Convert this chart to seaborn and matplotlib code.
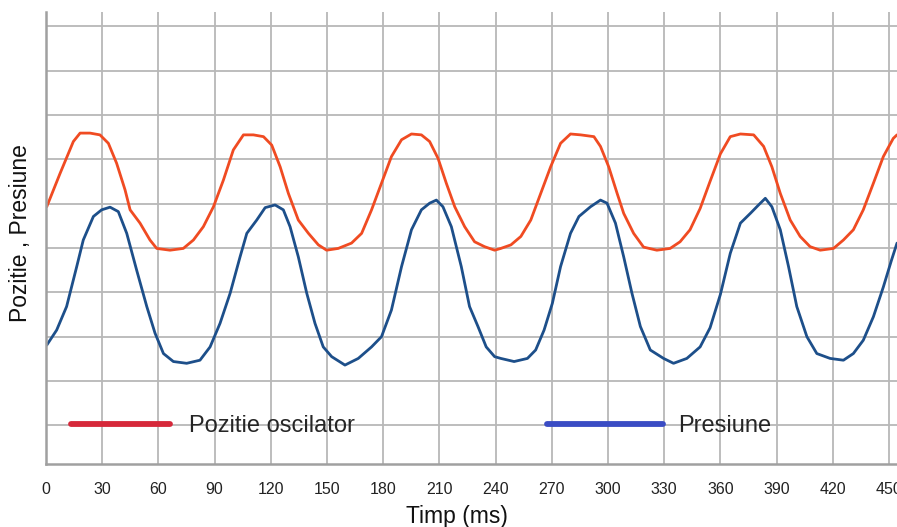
import matplotlib
matplotlib.use("Agg")
import matplotlib.pyplot as plt
from matplotlib.lines import Line2D
import seaborn as sns
import pandas as pd

# ---- data (time in ms, value in grid units) ----
pos_t = [0.4, 7.5, 14.6, 18.2, 23.5, 28.8, 33.3, 37.7, 42.2, 44.9, 50.2, 55.5, 59.1, 66.2, 73.3,
         78.7, 84.0, 89.4, 94.7, 100.0, 105.4, 110.7, 116.1,
         120.5, 125.0, 129.4, 134.7, 140.1, 145.4, 149.8, 156.0, 163.1, 168.5, 173.8, 179.1,
         184.4, 189.8, 195.1, 200.4, 204.8, 209.3, 213.7, 218.2, 223.5, 228.8, 234.1, 239.5,
         242.8, 248.2, 253.5, 258.8, 264.1, 269.4, 274.7, 280.0, 285.4, 292.5, 296.0, 300.4,
         304.9, 308.4, 313.7, 319.0, 326.1, 333.2, 338.5, 343.8, 349.2, 354.5, 360.0,
         365.3, 370.7, 377.8, 383.1, 387.5, 392.0, 397.3, 402.6, 407.9, 413.3, 420.4, 425.7,
         431.0, 436.3, 441.7, 447.0, 452.3, 454.3]
pos_v = [5.93, 6.68, 7.40, 7.59, 7.59, 7.55, 7.36, 6.91, 6.31, 5.86, 5.56, 5.18, 4.99, 4.95, 4.99,
         5.18, 5.48, 5.93, 6.53, 7.21, 7.55, 7.55, 7.51,
         7.32, 6.83, 6.23, 5.63, 5.33, 5.07, 4.95, 4.99, 5.11, 5.33, 5.86, 6.46,
         7.06, 7.44, 7.57, 7.55, 7.40, 7.02, 6.46, 5.93, 5.48, 5.14, 5.03, 4.95,
         4.99, 5.07, 5.26, 5.63, 6.23, 6.83, 7.36, 7.57, 7.55, 7.51, 7.29, 6.83,
         6.23, 5.78, 5.33, 5.02, 4.95, 4.99, 5.14, 5.41, 5.89, 6.50, 7.12,
         7.51, 7.57, 7.55, 7.29, 6.83, 6.23, 5.63, 5.26, 5.03, 4.95, 4.99, 5.18,
         5.41, 5.86, 6.46, 7.06, 7.47, 7.55]

pres_t = [0.4, 5.7, 11.0, 16.4, 19.9, 25.3, 29.7, 34.2, 38.6, 43.1, 48.4, 53.8, 58.2, 62.7, 68.0,
          75.1, 82.2, 87.6, 92.9, 98.3, 103.6, 107.2, 112.5, 117.0,
          122.3, 126.7, 130.3, 134.7, 139.2, 143.6, 148.0, 152.5, 159.6, 166.7, 173.8, 179.1,
          184.4, 189.8, 195.1, 200.4, 204.8, 208.4, 211.9, 216.4, 221.7, 226.1, 230.6, 235.0,
          239.5, 242.8, 249.9, 257.0, 261.4, 265.9, 270.3, 274.7, 280.0, 284.5, 290.7, 296.0,
          299.5, 304.0, 308.4, 312.8, 317.3, 322.6, 329.7, 335.0, 342.1, 349.2, 354.5, 360.0,
          365.3, 370.7, 376.0, 380.4, 384.0, 387.5, 392.0, 396.4, 400.8, 406.2, 411.5, 418.6,
          425.7, 431.0, 436.3, 441.7, 447.0, 451.4, 454.3]
pres_v = [2.81, 3.15, 3.68, 4.58, 5.18, 5.71, 5.86, 5.92, 5.82, 5.33, 4.50, 3.68, 3.08, 2.62, 2.44,
          2.40, 2.47, 2.77, 3.30, 3.98, 4.80, 5.33, 5.63, 5.91,
          5.97, 5.86, 5.48, 4.80, 3.98, 3.30, 2.77, 2.55, 2.36, 2.51, 2.77, 3.00,
          3.60, 4.58, 5.41, 5.86, 6.01, 6.08, 5.93, 5.48, 4.58, 3.68, 3.23, 2.77,
          2.55, 2.51, 2.44, 2.51, 2.70, 3.15, 3.75, 4.58, 5.33, 5.71, 5.93, 6.08,
          6.01, 5.56, 4.80, 3.98, 3.23, 2.70, 2.51, 2.40, 2.51, 2.77, 3.20, 3.95,
          4.88, 5.56, 5.78, 5.97, 6.12, 5.93, 5.41, 4.58, 3.68, 3.00, 2.62, 2.51,
          2.47, 2.62, 2.92, 3.45, 4.12, 4.73, 5.11]

series_names = ["Pozitie oscilator", "Presiune"]
x_ticks = list(range(0, 451, 30))
y_grid = list(range(1, 11))

curve_colors = {"Pozitie oscilator": "#f04b22", "Presiune": "#1d4f8a"}
legend_colors = {"Pozitie oscilator": "#d6283a", "Presiune": "#3a4cc4"}

df = pd.concat([
    pd.DataFrame({"t": pos_t, "v": pos_v, "serie": series_names[0]}),
    pd.DataFrame({"t": pres_t, "v": pres_v, "serie": series_names[1]}),
], ignore_index=True)

sns.set_theme(style="white")
plt.rcParams["font.family"] = ["Liberation Sans", "DejaVu Sans"]

fig = plt.figure(figsize=(8.97, 5.27), dpi=100)
ax = fig.add_axes([46 / 897, 63 / 527, 851 / 897, 452 / 527])

sns.lineplot(data=df, x="t", y="v", hue="serie", palette=curve_colors,
             estimator=None, sort=True, linewidth=2.0, legend=False, ax=ax)

ax.set_xlim(0, 454.3)
ax.set_ylim(0.13, 10.32)
ax.set_xticks(x_ticks)
ax.set_xticklabels([str(v) for v in x_ticks], fontsize=11.5, color="#222222")
ax.set_yticks(y_grid)
ax.set_yticklabels([])
ax.tick_params(axis="y", length=0)
ax.tick_params(axis="x", direction="out", length=4, width=1.2, color="#9a9a9a", pad=9)

ax.grid(True, color="#b8b8b8", linewidth=1.3)
ax.set_axisbelow(True)
for s in ["top", "right"]:
    ax.spines[s].set_visible(False)
for s in ["left", "bottom"]:
    ax.spines[s].set_color("#a0a0a0")
    ax.spines[s].set_linewidth(1.8)

ax.set_xlabel("Timp (ms)", fontsize=16.5, color="#111111")
ax.xaxis.set_label_coords((456.5 - 46) / 851, -(505 - 464) / 452)
ax.set_ylabel("Pozitie , Presiune", fontsize=16.5, color="#111111")
ax.yaxis.set_label_coords(-(46 - 32) / 851, (464 - 233) / 452)

# two separate legend entries, as in the reference
h1 = [Line2D([0], [0], color=legend_colors[series_names[0]], lw=4.2)]
leg1 = ax.legend(h1, [series_names[0]], loc="center left",
                 bbox_to_anchor=((71 - 46) / 851, (464 - 426) / 452),
                 frameon=False, fontsize=17, handlelength=4.2, handletextpad=0.8,
                 borderpad=0, borderaxespad=0)
ax.add_artist(leg1)
h2 = [Line2D([0], [0], color=legend_colors[series_names[1]], lw=4.2)]
ax.legend(h2, [series_names[1]], loc="center left",
          bbox_to_anchor=((547 - 46) / 851, (464 - 426) / 452),
          frameon=False, fontsize=17, handlelength=4.9, handletextpad=0.65,
          borderpad=0, borderaxespad=0)

fig.savefig("out.png", dpi=100)
